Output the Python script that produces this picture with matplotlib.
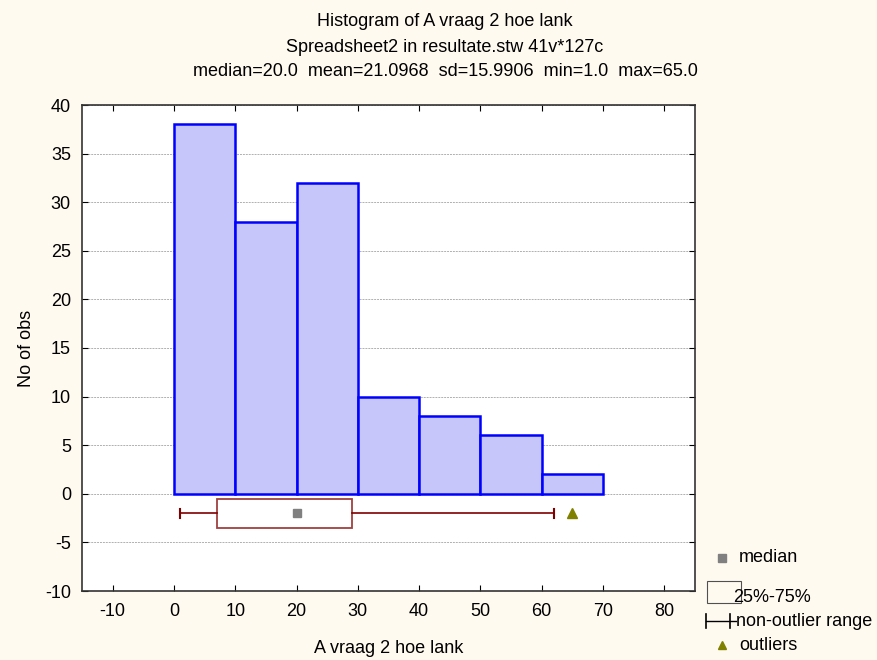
import matplotlib.pyplot as plt
from matplotlib.patches import Rectangle
from matplotlib.lines import Line2D

plt.rcParams['font.family'] = ['Liberation Sans', 'DejaVu Sans']
plt.rcParams['axes.unicode_minus'] = False

# histogram data
bin_edges = [0, 10, 20, 30, 40, 50, 60, 70]
counts = [38, 28, 32, 10, 8, 6, 2]

# box plot summary
box_min, box_q1, box_med, box_q3, box_max = 1.0, 7.0, 20.0, 29.0, 62.0
outliers = [65.0]

titles = ["Histogram of A vraag 2 hoe lank",
          "Spreadsheet2 in resultate.stw 41v*127c",
          "median=20.0  mean=21.0968  sd=15.9906  min=1.0  max=65.0"]

fs = 13
bg = '#fffaf0'
fig = plt.figure(figsize=(8.77, 6.6), dpi=100, facecolor=bg)
ax = fig.add_axes([82 / 877, 1 - 591 / 660, 613 / 877, 486 / 660])
ax.set_facecolor('white')

lefts = bin_edges[:-1]
widths = [b - a for a, b in zip(bin_edges[:-1], bin_edges[1:])]
ax.bar(lefts, counts, width=widths, align='edge', facecolor='#c6c6fb',
       edgecolor='#0000ff', linewidth=1.8, zorder=3)

# box plot below zero
yc, hh = -2.0, 1.5
box_col = '#a04040'
wh_col = '#800000'
ax.add_patch(Rectangle((box_q1, yc - hh), box_q3 - box_q1, 2 * hh,
                       facecolor='white', edgecolor=box_col, linewidth=1.3, zorder=3))
ax.plot([box_min, box_q1], [yc, yc], color=wh_col, lw=1.2, zorder=3)
ax.plot([box_q3, box_max], [yc, yc], color=wh_col, lw=1.2, zorder=3)
ax.plot([box_min, box_min], [yc - 0.45, yc + 0.45], color=wh_col, lw=1.5, zorder=3)
ax.plot([box_max, box_max], [yc - 0.45, yc + 0.45], color=wh_col, lw=1.5, zorder=3)
ax.plot([box_med], [yc], marker='s', color='#808080', ms=6, ls='none', zorder=4)
ax.plot(outliers, [yc] * len(outliers), marker='^', color='#808000', ms=7, ls='none', zorder=4)

ax.set_xlim(-15, 85)
ax.set_ylim(-10, 40)
ax.set_xticks(range(-10, 90, 10))
ax.set_yticks(range(-10, 45, 5))
ax.tick_params(direction='in', top=True, right=True, length=4, labelsize=fs,
               colors='black')
ax.tick_params(axis='x', pad=9)
ax.tick_params(axis='y', pad=8)
ax.yaxis.grid(True, color='#b0b0b0', linestyle=(0, (2, 1)), linewidth=0.7)
ax.set_axisbelow(True)
for s in ax.spines.values():
    s.set_linewidth(1.2)
    s.set_color('#333333')

ax.set_xlabel("A vraag 2 hoe lank", fontsize=fs, labelpad=14)
ax.set_ylabel("No of obs", fontsize=fs, labelpad=7)

for i, t in enumerate(titles):
    fig.text(445 / 877, 1 - (22 + 25 * i) / 660, t, ha='center', va='center', fontsize=fs)

# legend outside axes
fy = lambda p: 1 - p / 660
fx = lambda p: p / 877
fig.add_artist(Line2D([fx(722)], [fy(558)], marker='s', color='#808080', ms=6, ls='none'))
fig.text(fx(739), fy(558), "median", va='center', fontsize=fs)
fig.add_artist(Rectangle((fx(707), fy(603)), fx(34), 22 / 660, transform=fig.transFigure,
                         facecolor='none', edgecolor='#505050', linewidth=0.8))
fig.text(fx(733), fy(598), "25%-75%", va='center', fontsize=fs)
fig.add_artist(Line2D([fx(706), fx(736)], [fy(621), fy(621)], color='black', lw=1))
fig.add_artist(Line2D([fx(706), fx(706)], [fy(614), fy(628)], color='black', lw=1.2))
fig.add_artist(Line2D([fx(730), fx(730)], [fy(614), fy(628)], color='black', lw=1.2))
fig.text(fx(736), fy(621), "non-outlier range", va='center', fontsize=fs)
fig.add_artist(Line2D([fx(722)], [fy(645)], marker='^', color='#808000', ms=6, ls='none'))
fig.text(fx(739), fy(645), "outliers", va='center', fontsize=fs)

fig.savefig("out.png", dpi=100, facecolor=bg)
